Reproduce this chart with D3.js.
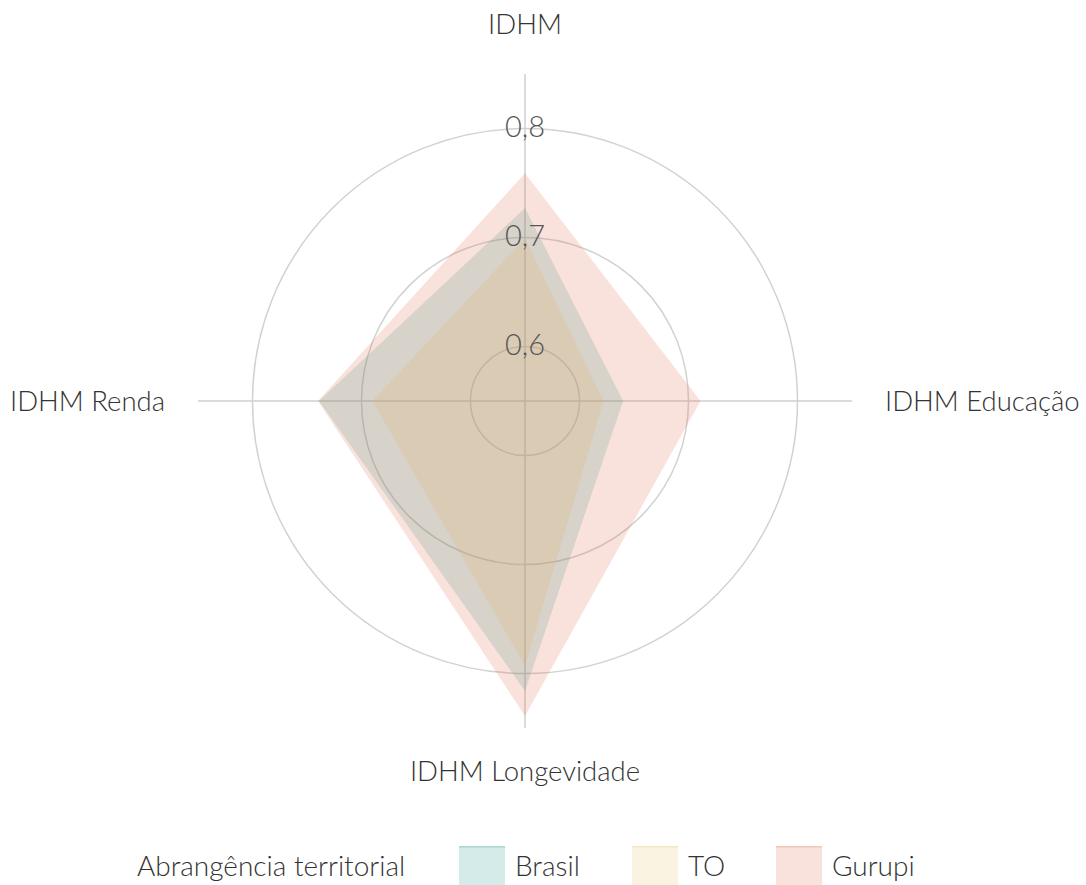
<html>
<head>
<meta charset='UTF-8'>
<script src="https://d3js.org/d3.v7.min.js"></script>
<style>
  body { margin: 0; background: #fff; }
  text { font-family: Lato, 'Open Sans', sans-serif; font-weight: 300; }
  .ring { fill: none; stroke: #d2d2d2; stroke-width: 1.5px; }
  .spoke { stroke: #cfcfcf; stroke-width: 1.5px; }
  .axisLabel { fill: #333; font-size: 27.5px; }
  .tick { fill: #555; font-size: 29px; }
  .legend text { fill: #333; font-size: 28px; }
</style>
</head>
<body>
<svg id="radar" width="1086" height="885"></svg>
<script>
  // data
  const axes = ['IDHM', 'IDHM Educação', 'IDHM Longevidade', 'IDHM Renda'];
  const series = ['Brasil', 'TO', 'Gurupi'];
  const brasil = [0.727, 0.640, 0.816, 0.739];
  const to = [0.699, 0.622, 0.793, 0.690];
  const gurupi = [0.759, 0.711, 0.839, 0.740];
  const ticks = [0.6, 0.7, 0.8];
  const legendTitle = 'Abrangência territorial';

  const colors = ['#2a9d8f', '#e9c46a', '#e76f51'];

  const svg = d3.select('#radar');
  const cx = 525, cy = 401;
  const g = svg.append('g').attr('transform', 'translate(' + cx + ',' + cy + ')');

  const r = d3.scaleLinear().domain([0.55, 0.85]).range([0, 327]);
  const ang = d => (axes.indexOf(d) * 2 * Math.PI / axes.length);

  // rings
  g.selectAll('circle.ring').data(ticks).join('circle')
    .attr('class', 'ring').attr('r', d => r(d));

  // spokes
  g.selectAll('line.spoke').data(axes).join('line')
    .attr('class', 'spoke')
    .attr('x2', d => r(0.85) * Math.sin(ang(d)))
    .attr('y2', d => -r(0.85) * Math.cos(ang(d)));

  // areas
  const line = d3.lineRadial()
    .angle((d, i) => i * 2 * Math.PI / axes.length)
    .radius(d => r(d))
    .curve(d3.curveLinearClosed);
  const data = [brasil, to, gurupi];
  g.selectAll('path.area').data(data).join('path')
    .attr('class', 'area')
    .attr('d', line)
    .attr('fill', (d, i) => colors[i])
    .attr('fill-opacity', 0.2);

  // tick labels
  g.selectAll('text.tick').data(ticks).join('text')
    .attr('class', 'tick')
    .attr('text-anchor', 'middle')
    .attr('y', d => -r(d) + 8)
    .text(d => d3.format('.1f')(d).replace('.', ','));

  // axis labels
  const labelR = 360;
  g.selectAll('text.axisLabel').data(axes).join('text')
    .attr('class', 'axisLabel')
    .attr('x', d => labelR * Math.sin(ang(d)))
    .attr('y', d => -labelR * Math.cos(ang(d)))
    .attr('text-anchor', d => { const s = Math.sin(ang(d)); return s > 0.1 ? 'start' : (s < -0.1 ? 'end' : 'middle'); })
    .attr('dy', d => { const c = Math.cos(ang(d)); return c > 0.1 ? '-0.25em' : (c < -0.1 ? '0.72em' : '0.35em'); })
    .text(d => d);

  // legend
  const legend = svg.append('g').attr('class', 'legend');
  legend.append('text').attr('x', 137).attr('y', 876).text(legendTitle);
  const legendX = [459, 632, 776];
  const items = legend.selectAll('g.item').data(series).join('g')
    .attr('class', 'item')
    .attr('transform', (d, i) => 'translate(' + legendX[i] + ',846)');
  items.append('rect').attr('width', 46).attr('height', 40)
    .attr('fill', (d, i) => colors[i]).attr('fill-opacity', 0.2);
  items.append('rect').attr('width', 46).attr('height', 1.5)
    .attr('fill', (d, i) => colors[i]).attr('fill-opacity', 0.25);
  items.append('text').attr('x', 56).attr('y', 30).text(d => d);
</script>
</body>
</html>
